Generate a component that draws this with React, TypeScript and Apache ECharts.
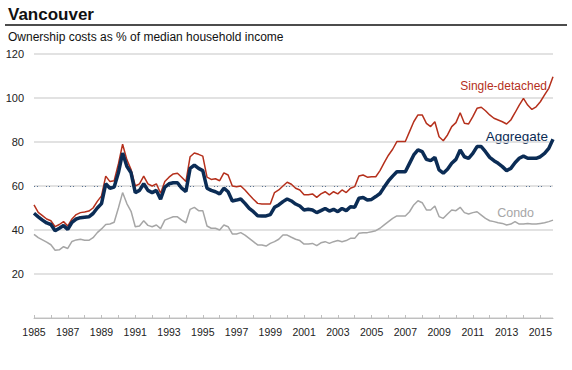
import React, { useEffect, useRef } from "react";
import * as echarts from "echarts";

const years = [
  1985, 1986, 1987, 1988, 1989, 1990, 1991, 1992, 1993, 1994, 1995, 1996, 1997, 1998, 1999, 2000,
  2001, 2002, 2003, 2004, 2005, 2006, 2007, 2008, 2009, 2010, 2011, 2012, 2013, 2014, 2015,
];
const quarterNames = ["Q1", "Q2", "Q3", "Q4"];

const aggregate = [
  47.6, 46, 44.5, 43.2, 42.5, 39.7, 40.8, 42, 40.3, 43.5,
  45, 45.6, 45.8, 46, 47.5, 50, 52, 61, 59, 59.5,
  66, 75, 69, 66, 57, 58, 61, 58, 57, 58,
  54, 59.5, 61, 61.5, 61.5, 59, 57.5, 68, 69.5, 68,
  67, 59, 58, 57.4, 56.4, 59, 57.4, 53.2, 53.6, 54.1,
  52.1, 49.8, 48.3, 46.5, 46.4, 46.4, 47, 50.3, 51.4, 52.9,
  54.1, 53.2, 51.8, 50.9, 49.1, 49.4, 49.1, 47.9, 48.8, 49.8,
  48.6, 49.4, 48.3, 49.8, 48.8, 50.6, 50.3, 54.4, 54.8, 53.6,
  53.9, 55.2, 56.6, 59.5, 62.3, 64.5, 66.5, 66.5, 66.5, 70.3,
  74.1, 76.4, 75.6, 72.1, 71.5, 73, 67.3, 65.8, 67.6, 70.3,
  72.1, 76.4, 73.3, 72.6, 74.8, 77.9, 77.9, 75.6, 73, 71.5,
  70.3, 68.8, 67, 68, 70.6, 72.6, 73.6, 72.6, 72.6, 72.6,
  73.3, 74.8, 77.1, 81.2,
];

const singleDetached = [
  51.4, 48, 46.5, 45, 44.2, 41.5, 42.5, 43.8, 41.8, 45,
  47, 47.9, 48.2, 48.6, 50, 53, 55.5, 64.5, 62, 62.4,
  70, 79, 72, 67.5, 60, 61, 64.5, 61, 60, 61,
  56.7, 62, 64, 65.5, 65.8, 64, 62, 73.3, 75, 74.4,
  73.6, 64, 63, 63.3, 62.4, 66, 65, 60, 59.7, 60,
  58.2, 56, 54, 52.1, 51.8, 51.8, 51.8, 57, 58.2, 60,
  61.7, 60.8, 59, 58.2, 56, 56, 56.4, 54.8, 56.4, 57.4,
  56, 57.4, 56.4, 58.2, 57, 59, 59.7, 64.5, 65, 64,
  64.2, 64.2, 67, 70.6, 74, 76.7, 80.2, 80.2, 80.2, 84.7,
  89.2, 92.3, 92.3, 88.5, 87, 89.2, 82.4, 80.6, 83.2, 87,
  88.8, 93.3, 88.5, 88.2, 91.5, 95.3, 95.8, 94.2, 92.3, 90.8,
  90, 89.2, 88.2, 90, 93.3, 96.8, 99.8, 96.8, 94.8, 96,
  98.3, 101.4, 104.4, 109.7,
];

const condo = [
  38, 36.5, 35.5, 34.5, 33.3, 30.8, 31, 32.4, 31.6, 34.8,
  35.5, 35.8, 35.3, 35.3, 36.5, 38.8, 40.5, 42.5, 42.7, 43.5,
  50, 57, 52, 48.5, 41.5, 41.8, 44.2, 42.1, 41.5, 42.3,
  40.6, 44.5, 45.3, 46, 46, 44.5, 43.3, 49.4, 50.3, 48.8,
  48.8, 41.8, 40.8, 40.8, 40, 42.3, 41.5, 38.2, 38.2, 38.8,
  37.7, 36.2, 34.7, 33.2, 33.2, 32.7, 33.9, 34.7, 35.8, 37.7,
  37.7, 36.7, 35.8, 35.2, 33.6, 33.6, 33.9, 32.9, 34.2, 34.7,
  33.9, 34.7, 35.2, 34.7, 35.2, 36.2, 36.2, 38.5, 38.8, 38.8,
  39.2, 39.7, 40.8, 42.3, 43.8, 45.3, 46.4, 46.4, 46.4, 48.3,
  51.4, 53.3, 52.4, 49.1, 49.1, 50.9, 46.1, 45.3, 47.3, 49.1,
  48.8, 50.3, 47.9, 47.3, 47.9, 48.3, 46.8, 45.3, 44.2, 43.8,
  43.3, 43, 42.3, 42.7, 43.8, 42.7, 42.7, 43, 42.7, 42.7,
  43, 43.3, 43.8, 44.5,
];

const categories = years
  .flatMap((y) => quarterNames.map((q) => `${y} ${q}`))
  .slice(0, aggregate.length);

const FONT = "'Liberation Sans', Arial, sans-serif";

export default function App() {
  const ref = useRef<HTMLDivElement>(null);

  useEffect(() => {
    if (!ref.current) return;
    const chart = echarts.init(ref.current, undefined, { renderer: "svg" });
    chart.setOption({
      animation: false,
      textStyle: { fontFamily: FONT },
      grid: { left: 34, right: 19, top: 54, bottom: 52, containLabel: false },
      xAxis: {
        type: "category",
        data: categories,
        boundaryGap: false,
        axisLine: { show: true, lineStyle: { color: "#bfbfbf", width: 1 } },
        axisTick: {
          show: true,
          inside: true,
          length: 3,
          interval: (i: number) => i % 4 === 0,
          lineStyle: { color: "#bfbfbf" },
        },
        axisLabel: {
          interval: (i: number) => i % 8 === 0,
          formatter: (v: string) => v.slice(0, 4),
          color: "#222",
          fontSize: 10.5,
          fontFamily: FONT,
          margin: 8,
        },
        splitLine: { show: false },
      },
      yAxis: {
        type: "value",
        min: 0,
        max: 120,
        interval: 20,
        axisLine: { show: false },
        axisTick: { show: false },
        axisLabel: {
          formatter: (v: number) => (v === 0 ? "" : String(v)),
          color: "#222",
          fontSize: 11,
          fontFamily: FONT,
          margin: 10,
        },
        splitLine: { show: true, lineStyle: { color: "#d9d9d9", width: 1.5 } },
      },
      series: [
        {
          name: "Condo",
          type: "line",
          data: condo,
          symbol: "none",
          lineStyle: { color: "#a6a6a6", width: 1.5 },
          z: 2,
        },
        {
          name: "Single-detached",
          type: "line",
          data: singleDetached,
          symbol: "none",
          lineStyle: { color: "#b5301c", width: 1.5 },
          z: 3,
        },
        {
          name: "Aggregate",
          type: "line",
          data: aggregate,
          symbol: "none",
          lineStyle: { color: "#0b2c55", width: 3.5 },
          z: 4,
          markLine: {
            silent: true,
            symbol: ["none", "none"],
            label: { show: false },
            lineStyle: { color: "#5b7596", width: 1, type: [1, 2, 1, 8] },
            data: [{ yAxis: 60 }],
            z: 1,
          },
        },
      ],
      graphic: [
        {
          type: "text",
          x: 8,
          y: 14,
          style: {
            text: "Vancouver",
            font: `bold 17px ${FONT}`,
            fill: "#111",
            textAlign: "left",
            textVerticalAlign: "middle",
          },
        },
        {
          type: "line",
          shape: { x1: 5, y1: 25, x2: 567, y2: 25 },
          style: { stroke: "#111", lineWidth: 1.5 },
        },
        {
          type: "text",
          x: 8,
          y: 37,
          style: {
            text: "Ownership costs as % of median household income",
            font: `12px ${FONT}`,
            fill: "#111",
            textAlign: "left",
            textVerticalAlign: "middle",
          },
        },
        {
          type: "text",
          x: 547,
          y: 86,
          style: {
            text: "Single-detached",
            font: `12px ${FONT}`,
            fill: "#b5301c",
            textAlign: "right",
            textVerticalAlign: "middle",
          },
        },
        {
          type: "text",
          x: 548,
          y: 136,
          style: {
            text: "Aggregate",
            font: `13.5px ${FONT}`,
            fill: "#0b2c55",
            textAlign: "right",
            textVerticalAlign: "middle",
          },
        },
        {
          type: "text",
          x: 534,
          y: 213,
          style: {
            text: "Condo",
            font: `12.5px ${FONT}`,
            fill: "#a6a6a6",
            textAlign: "right",
            textVerticalAlign: "middle",
          },
        },
      ],
    });
    return () => chart.dispose();
  }, []);

  return (
    <div
      ref={ref}
      style={{ position: "absolute", left: 0, top: 0, width: 572, height: 370, background: "#fff" }}
    />
  );
}
